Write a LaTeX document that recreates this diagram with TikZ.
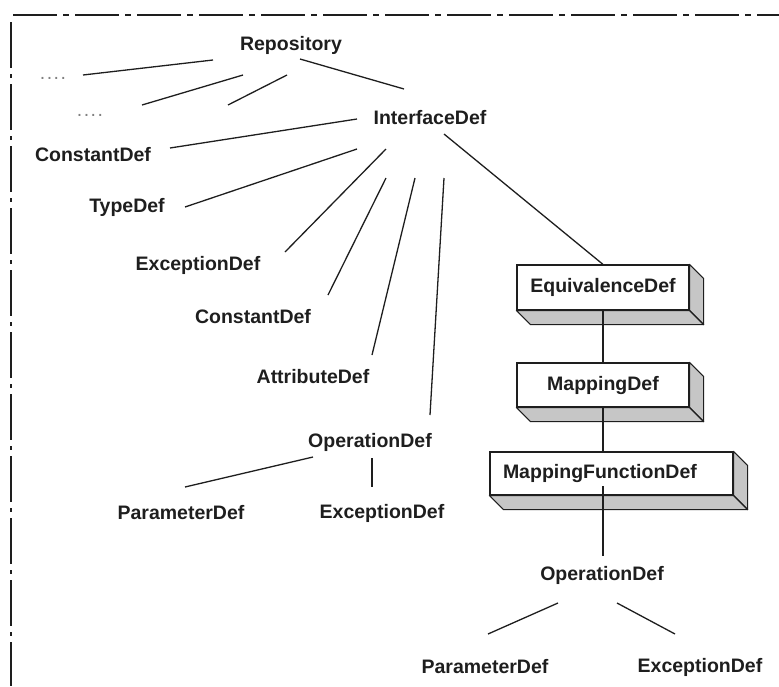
\documentclass[tikz,border=0pt]{standalone}
\usepackage{fontspec}
\setmainfont{Liberation Sans}
\usetikzlibrary{calc}
\definecolor{ink}{HTML}{1E1E1E}
\definecolor{face}{HTML}{C6C6C6}
\begin{document}
\begin{tikzpicture}[x=1pt,y=-1pt,
  lbl/.style={inner sep=0pt, text=ink, font=\fontsize{19.5}{22}\selectfont\bfseries},
  dots/.style={inner sep=0pt, text=gray, font=\fontsize{19.5}{22}\selectfont},
  conn/.style={draw=ink, line width=1.3pt},
  stem/.style={draw=ink, line width=1.2pt},
  boxnode/.style={draw=ink, fill=white, line width=1.2pt, inner sep=0pt,
     text=ink, font=\fontsize{19.5}{22}\selectfont\bfseries, minimum height=44pt},
  sideface/.style={fill=face, draw=ink, line width=1.1pt, line join=round},
  frameline/.style={draw=ink, line width=1.8pt}
]
\useasboundingbox (0,0) rectangle (779,686);

% frame
\draw[frameline, dash pattern=on 44pt off 6pt on 6pt off 6pt] (13,15) -- (779,15);
\draw[frameline, dash pattern=on 46pt off 6pt on 4pt off 6pt] (11,22) -- (11,686);

% labels
\node[lbl] (rep) at (291,45) {Repository};
\node[dots] (d1) at (53,78) {.\kern1.5pt.\kern1.5pt.\kern1.5pt.};
\node[dots] (d2) at (90,115) {.\kern1.5pt.\kern1.5pt.\kern1.5pt.};
\coordinate (free) at (228,105);
\node[lbl] (iface) at (430,118) {InterfaceDef};
\node[lbl] (c1) at (93,155) {ConstantDef};
\node[lbl] (td) at (127,207) {TypeDef};
\node[lbl] (ex1) at (198,265) {ExceptionDef};
\node[lbl] (c2) at (253,317) {ConstantDef};
\node[lbl] (attr) at (313,377) {AttributeDef};
\node[lbl] (op1) at (370,442) {OperationDef};
\node[lbl] (par1) at (181,513) {ParameterDef};
\node[lbl] (ex2) at (382,513) {ExceptionDef};
\node[lbl] (op2) at (602,575) {OperationDef};
\node[lbl] (par2) at (485,667) {ParameterDef};
\node[lbl] (ex3) at (700,667) {ExceptionDef};

% 3D boxes
\node[boxnode, minimum width=172pt, minimum height=45pt] (eq) at (603,287.5) {EquivalenceDef};
\node[boxnode, minimum width=172pt] (map) at (603,385) {MappingDef};
\node[boxnode, minimum height=43pt, text width=217pt, align=left, inner xsep=13pt] (mfd) at (611.5,473.5) {MappingFunctionDef};

\foreach \b in {eq,map,mfd}{
  \draw[sideface] (\b.north east) -- ++(14,14) -- ($(\b.south east)+(14,14)$) -- (\b.south east) -- cycle;
  \draw[sideface] (\b.south west) -- ++(14,14) -- ($(\b.south east)+(14,14)$) -- (\b.south east) -- cycle;
}

% connectors from Repository
\draw[conn] ([shift={(-78,15)}]rep.center) -- ([shift={(30,-3)}]d1.center);
\draw[conn] ([shift={(-48,30)}]rep.center) -- ([shift={(52,-10)}]d2.center);
\draw[conn] ([shift={(-4,30)}]rep.center) -- (free);
\draw[conn] ([shift={(9,14)}]rep.center) -- ([shift={(-26,-29)}]iface.center);

% connectors from InterfaceDef
\draw[conn] ([shift={(-73,1)}]iface.center) -- ([shift={(77,-7)}]c1.center);
\draw[conn] ([shift={(-73,31)}]iface.center) -- ([shift={(58,0)}]td.center);
\draw[conn] ([shift={(-44,31)}]iface.center) -- ([shift={(87,-13)}]ex1.center);
\draw[conn] ([shift={(-44,60)}]iface.center) -- ([shift={(75,-22)}]c2.center);
\draw[conn] ([shift={(-15,60)}]iface.center) -- ([shift={(59,-22)}]attr.center);
\draw[conn] ([shift={(14,60)}]iface.center) -- ([shift={(60,-27)}]op1.center);
\draw[conn] ([shift={(14,16)}]iface.center) -- (eq.north);

% OperationDef (left)
\draw[conn] ([shift={(-57,15)}]op1.center) -- ([shift={(4,-26)}]par1.center);
\draw[conn] ([shift={(2,16)}]op1.center) -- ([shift={(-10,-26)}]ex2.center);

% chain of boxes
\draw[stem] (eq.south) -- (eq.south |- map.north);
\draw[stem] (map.south) -- (map.south |- mfd.north);
\draw[stem] ([shift={(1,-10)}]op2.north) -- ([shift={(1,-10)}]op2.north |- mfd.south);

% OperationDef (right)
\draw[conn] ([shift={(-44,28)}]op2.center) -- ([shift={(3,-33)}]par2.center);
\draw[conn] ([shift={(15,28)}]op2.center) -- ([shift={(-25,-33)}]ex3.center);
\end{tikzpicture}
\end{document}
